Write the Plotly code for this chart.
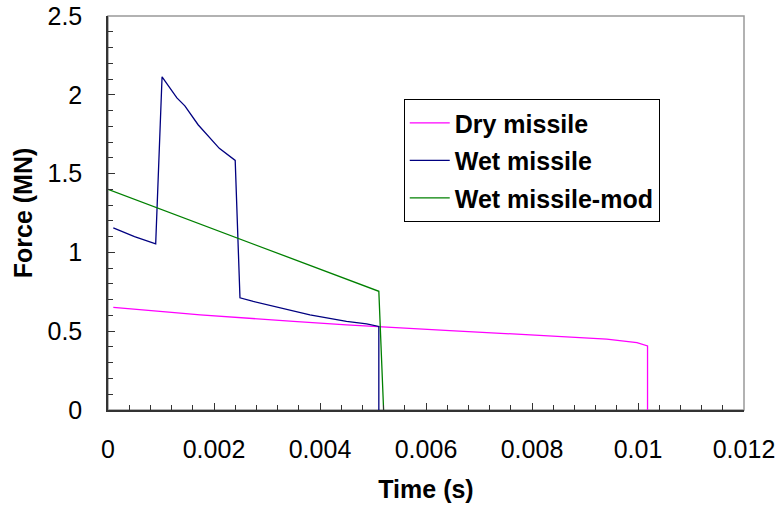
import plotly.graph_objects as go

dry_t = [0.0001, 0.0006, 0.0012, 0.00174, 0.0025, 0.0035, 0.0045, 0.0051, 0.00645, 0.0075, 0.00853, 0.00941, 0.00998, 0.01018, 0.01018]
dry_f = [0.651, 0.635, 0.62, 0.604, 0.585, 0.562, 0.54, 0.53, 0.504, 0.485, 0.466, 0.45, 0.428, 0.407, 0.0]

wet_t = [0.0001, 0.0005, 0.0009, 0.00102, 0.0013, 0.00145, 0.0017, 0.00192, 0.0021, 0.0024, 0.00249, 0.00274, 0.00321, 0.00381, 0.0045, 0.00488, 0.00511, 0.00511]
wet_f = [1.156, 1.1, 1.054, 2.114, 1.98, 1.93, 1.81, 1.73, 1.66, 1.584, 0.712, 0.689, 0.651, 0.604, 0.562, 0.547, 0.53, 0.0]

mod_t = [0.0, 0.00511, 0.0052]
mod_f = [1.40, 0.753, 0.0]

x_ticks = [0, 0.002, 0.004, 0.006, 0.008, 0.01, 0.012]
x_labels = ["0", "0.002", "0.004", "0.006", "0.008", "0.01", "0.012"]
y_ticks = [0, 0.5, 1, 1.5, 2, 2.5]
y_labels = ["0", "0.5", "1", "1.5", "2", "2.5"]

fig = go.Figure()
fig.add_trace(go.Scatter(x=dry_t, y=dry_f, mode="lines", name="Dry missile", legendgroup="a",
                         line=dict(color="#FF00FF", width=1.3)))
fig.add_trace(go.Scatter(x=wet_t, y=wet_f, mode="lines", name="Wet missile", legendgroup="b",
                         line=dict(color="#000080", width=1.3)))
fig.add_trace(go.Scatter(x=mod_t, y=mod_f, mode="lines", name="Wet missile-mod", legendgroup="c",
                         line=dict(color="#008000", width=1.3)))

tick_font = dict(family="Liberation Sans, Arial", size=25, color="#000")
title_font = dict(family="Liberation Sans, Arial", size=25, color="#000")
fig.update_layout(
    width=777, height=507,
    margin=dict(l=108, r=33, t=16, b=97, autoexpand=False),
    paper_bgcolor="white", plot_bgcolor="white",
    showlegend=True,
    legend=dict(x=0.465, y=0.789, xanchor="left", yanchor="top",
                bordercolor="#000", borderwidth=1, bgcolor="white",
                font=dict(family="Liberation Sans, Arial", size=25, color="#000", weight="bold"),
                itemwidth=40, tracegroupgap=2),
    shapes=[dict(type="rect", xref="paper", yref="paper", x0=0, y0=0, x1=1, y1=1,
                 line=dict(color="#999", width=1.5), layer="below")],
)
fig.update_xaxes(range=[0, 0.012], tickvals=x_ticks, ticktext=x_labels, automargin=False,
                 ticks="inside", ticklen=7, tickcolor="#333", tickwidth=1,
                 showline=True, linecolor="#333", linewidth=1.5,
                 showgrid=False, zeroline=False, tickfont=tick_font, ticklabelstandoff=16,
                 minor=dict(dtick=0.0004, ticks="inside", ticklen=5, tickcolor="#333", showgrid=False),
                 title=dict(text="<b>Time (s)</b>", font=title_font, standoff=19))
fig.update_yaxes(range=[0, 2.5], tickvals=y_ticks, ticktext=y_labels, automargin=False,
                 ticks="inside", ticklen=7, tickcolor="#333", tickwidth=1,
                 showline=True, linecolor="#333", linewidth=1.5,
                 showgrid=False, zeroline=False, tickfont=tick_font, ticklabelstandoff=19,
                 minor=dict(dtick=0.1, ticks="inside", ticklen=5, tickcolor="#333", showgrid=False),
                 title=dict(text="<b>Force (MN)</b>", font=title_font, standoff=8))

fig.write_html("out.html")
